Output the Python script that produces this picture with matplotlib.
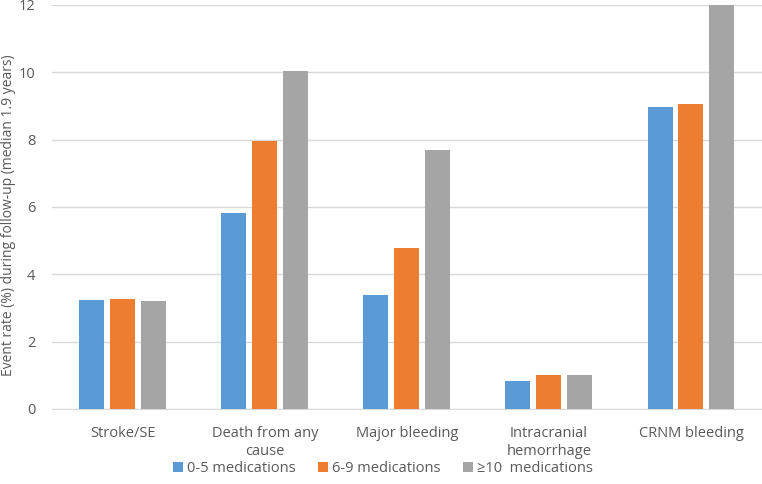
import numpy as np
import matplotlib.pyplot as plt

categories = ['Stroke/SE', 'Death from any\ncause', 'Major bleeding', 'Intracranial\nhemorrhage', 'CRNM bleeding']
series_names = ['0-5 medications', '6-9 medications', '\u226510  medications']
meds_0_5 = [3.25, 5.82, 3.38, 0.82, 8.97]
meds_6_9 = [3.27, 7.95, 4.77, 1.02, 9.05]
meds_10 = [3.22, 10.05, 7.68, 1.00, 12.2]
colors = ['#5B9BD5', '#ED7D31', '#A5A5A5']

plt.rcParams['font.family'] = ['Open Sans', 'DejaVu Sans']

fig = plt.figure(figsize=(7.62, 4.84), dpi=100)
ax = fig.add_axes([0.068, 0.155, 0.932, 0.835])

x = np.arange(len(categories))
w = 0.176
step = 0.218
for i, (vals, name, c) in enumerate(zip([meds_0_5, meds_6_9, meds_10], series_names, colors)):
    ax.bar(x + (i - 1) * step, vals, width=w, color=c, label=name, zorder=3)

ax.set_xlim(-0.5, len(categories) - 0.5)
ax.set_ylim(0, 12)
ax.set_yticks(range(0, 13, 2))
ax.grid(axis='y', color='#D9D9D9', linewidth=1, zorder=0)
for s in ['top', 'right', 'left']:
    ax.spines[s].set_visible(False)
ax.spines['bottom'].set_color('#D9D9D9')
ax.tick_params(axis='x', length=0, labelsize=10.5, colors='#595959', pad=12)
ax.tick_params(axis='y', length=0, labelsize=10.5, colors='#595959', pad=12)
ax.set_xticks(x)
ax.set_xticklabels(categories, linespacing=1.35)
ax.set_ylabel('Event rate (%) during follow-up (median 1.9 years)', fontsize=10, color='#595959')
ax.yaxis.set_label_coords(-0.05, 0.48)

ax.legend(loc='upper center', bbox_to_anchor=(0.466, -0.097), ncol=3, frameon=False,
          fontsize=10.5, handlelength=0.7, handleheight=0.7, handletextpad=0.3, columnspacing=1.5,
          labelcolor='#595959')

fig.savefig('out.png', dpi=100)
